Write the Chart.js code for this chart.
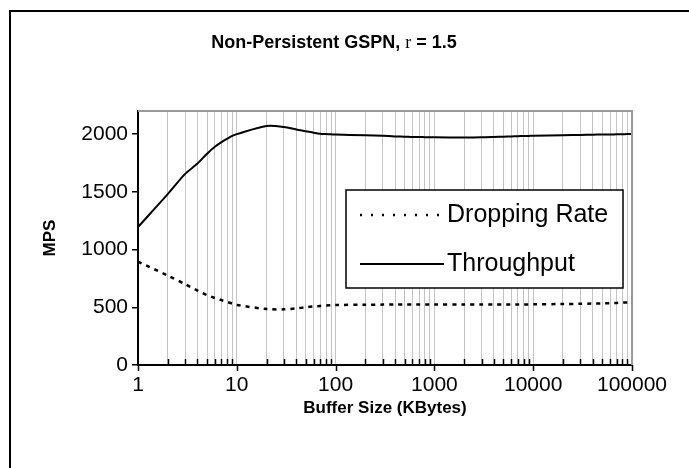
<!DOCTYPE html>
<html lang="en">
<head>
    <meta charset="UTF-8">
    <title>Non-Persistent GSPN</title>
    <script src="https://cdn.jsdelivr.net/npm/chart.js"></script>
    <style>
        body { margin: 0; background: #fff; }
        #wrap { width: 689px; height: 468px; }
    </style>
</head>
<body>
    <div id="wrap"><canvas id="chart" width="689" height="468"></canvas></div>

    <script>
        // data
        const bufferSizes = [1, 2, 3, 4, 5, 6, 7, 8, 9, 10, 20, 30, 40, 50, 60, 70, 80, 90, 100,
            200, 300, 400, 500, 600, 700, 800, 900, 1000, 2000, 3000, 4000, 5000, 6000, 7000, 8000, 9000, 10000,
            20000, 30000, 40000, 50000, 60000, 70000, 80000, 90000, 100000];
        const throughput = [1195, 1480, 1655, 1745, 1830, 1890, 1930, 1960, 1985, 2000, 2070, 2062, 2040, 2025, 2012, 2003, 2000, 1998, 1996,
            1990, 1985, 1980, 1978, 1975, 1975, 1973, 1972, 1972, 1971, 1972, 1975, 1978, 1980, 1982, 1983, 1984, 1986,
            1990, 1993, 1995, 1996, 1997, 1998, 1999, 2000, 2000];
        const droppingRate = [895, 775, 700, 645, 605, 580, 562, 546, 532, 520, 485, 482, 490, 500, 507, 512, 516, 518, 520,
            522, 523, 524, 525, 525, 525, 525, 525, 525, 525, 525, 525, 525, 525, 525, 525, 525, 526,
            528, 530, 532, 534, 536, 538, 540, 542, 545];
        const xTicks = [1, 2, 3, 4, 5, 6, 7, 8, 9, 10, 20, 30, 40, 50, 60, 70, 80, 90, 100,
            200, 300, 400, 500, 600, 700, 800, 900, 1000, 2000, 3000, 4000, 5000, 6000, 7000, 8000, 9000, 10000,
            20000, 30000, 40000, 50000, 60000, 70000, 80000, 90000, 100000];
        const yTicks = [0, 500, 1000, 1500, 2000];

        const SANS = "'Liberation Sans', Arial, sans-serif";
        const isDecade = v => Math.abs(Math.log10(v) - Math.round(Math.log10(v))) < 1e-9;

        // frame, plot border, title, custom x tick marks and the boxed legend
        const decorations = {
            id: 'decorations',
            beforeDraw(chart) {
                const ctx = chart.ctx;
                ctx.save();
                ctx.fillStyle = '#fff';
                ctx.fillRect(0, 0, chart.width, chart.height);
                ctx.strokeStyle = '#000';
                ctx.lineWidth = 2;
                ctx.beginPath();
                ctx.moveTo(10, chart.height + 2);
                ctx.lineTo(10, 11);
                ctx.lineTo(chart.width + 2, 11);
                ctx.stroke();
                ctx.restore();
            },
            afterDraw(chart) {
                const ctx = chart.ctx;
                const area = chart.chartArea;
                const xs = chart.scales.x;
                ctx.save();

                // top and right edges of the plot area
                ctx.strokeStyle = '#999';
                ctx.lineWidth = 2;
                ctx.beginPath();
                ctx.moveTo(area.left, area.top);
                ctx.lineTo(area.right, area.top);
                ctx.lineTo(area.right, area.bottom);
                ctx.stroke();

                // x tick marks: decades outside, minor ones inside
                ctx.strokeStyle = '#000';
                ctx.lineWidth = 1.5;
                ctx.beginPath();
                xs.ticks.forEach(t => {
                    const px = Math.round(xs.getPixelForValue(t.value)) + 0.5;
                    if (isDecade(t.value)) {
                        ctx.moveTo(px, area.bottom);
                        ctx.lineTo(px, area.bottom + 6);
                    } else {
                        ctx.moveTo(px, area.bottom - 6);
                        ctx.lineTo(px, area.bottom);
                    }
                });
                ctx.stroke();

                // title with the greek letter in a serif face
                const parts = [
                    { text: 'Non-Persistent GSPN, ', font: 'bold 18px ' + SANS },
                    { text: 'r', font: "18px 'Liberation Serif', 'Times New Roman', serif" },
                    { text: ' = 1.5', font: 'bold 18px ' + SANS }
                ];
                let total = 0;
                parts.forEach(p => { ctx.font = p.font; p.w = ctx.measureText(p.text).width; total += p.w; });
                let tx = 334 - total / 2;
                ctx.fillStyle = '#000';
                ctx.textBaseline = 'alphabetic';
                parts.forEach(p => { ctx.font = p.font; ctx.fillText(p.text, tx, 48); tx += p.w; });

                // legend box
                const box = { left: 346, top: 190, right: 623, bottom: 288 };
                ctx.fillStyle = '#fff';
                ctx.fillRect(box.left, box.top, box.right - box.left, box.bottom - box.top);
                ctx.strokeStyle = '#000';
                ctx.lineWidth = 1.5;
                ctx.strokeRect(box.left, box.top, box.right - box.left, box.bottom - box.top);
                const rows = [215, 264];
                ctx.font = '25px ' + SANS;
                ctx.textBaseline = 'middle';
                chart.data.datasets.forEach((ds, i) => {
                    const y = rows[i];
                    ctx.strokeStyle = ds.borderColor;
                    ctx.lineWidth = ds.borderWidth;
                    ctx.setLineDash(ds.legendDash || []);
                    ctx.beginPath();
                    ctx.moveTo(360, y);
                    ctx.lineTo(444, y);
                    ctx.stroke();
                    ctx.setLineDash([]);
                    ctx.fillStyle = '#000';
                    ctx.fillText(ds.label, 447, y);
                });
                ctx.restore();
            }
        };

        new Chart(document.getElementById('chart'), {
            type: 'line',
            data: {
                datasets: [
                    {
                        label: 'Dropping Rate',
                        data: bufferSizes.map((x, i) => ({ x, y: droppingRate[i] })),
                        borderColor: '#000',
                        borderWidth: 2.5,
                        borderDash: [4, 5],
                        legendDash: [2, 9],
                        pointRadius: 0,
                        tension: 0.3,
                        fill: false
                    },
                    {
                        label: 'Throughput',
                        data: bufferSizes.map((x, i) => ({ x, y: throughput[i] })),
                        borderColor: '#000',
                        borderWidth: 2,
                        pointRadius: 0,
                        tension: 0.3,
                        fill: false
                    }
                ]
            },
            options: {
                responsive: false,
                animation: false,
                layout: { padding: { left: 40, right: 57, top: 111, bottom: 49 } },
                plugins: {
                    legend: { display: false },
                    title: { display: false },
                    tooltip: { enabled: false }
                },
                scales: {
                    x: {
                        type: 'logarithmic',
                        min: 1,
                        max: 100000,
                        afterBuildTicks: scale => { scale.ticks = xTicks.map(v => ({ value: v })); },
                        afterFit: scale => { scale.height = 54; },
                        border: { display: true, color: '#000', width: 2 },
                        grid: {
                            drawTicks: false,
                            color: ctx => (ctx.tick && ctx.tick.value === 100000) ? '#888' : '#c4c4c4',
                            lineWidth: 1
                        },
                        ticks: {
                            autoSkip: false,
                            maxRotation: 0,
                            padding: 8,
                            color: '#000',
                            font: { family: SANS, size: 21 },
                            callback: v => isDecade(v) ? String(v) : ''
                        },
                        title: {
                            display: true,
                            text: 'Buffer Size (KBytes)',
                            color: '#000',
                            padding: 0,
                            font: { family: SANS, size: 17, weight: 'bold' }
                        }
                    },
                    y: {
                        min: 0,
                        max: 2200,
                        afterBuildTicks: scale => { scale.ticks = yTicks.map(v => ({ value: v })); },
                        afterFit: scale => { scale.width = 98; },
                        border: { display: true, color: '#000', width: 2 },
                        grid: {
                            drawOnChartArea: false,
                            drawTicks: true,
                            tickLength: 6,
                            color: '#000',
                            lineWidth: 1.5
                        },
                        ticks: {
                            padding: 4,
                            color: '#000',
                            font: { family: SANS, size: 21 },
                            callback: v => String(v)
                        },
                        title: {
                            display: true,
                            text: 'MPS',
                            color: '#000',
                            padding: 0,
                            font: { family: SANS, size: 17, weight: 'bold' }
                        }
                    }
                }
            },
            plugins: [decorations]
        });
    </script>
</body>
</html>
